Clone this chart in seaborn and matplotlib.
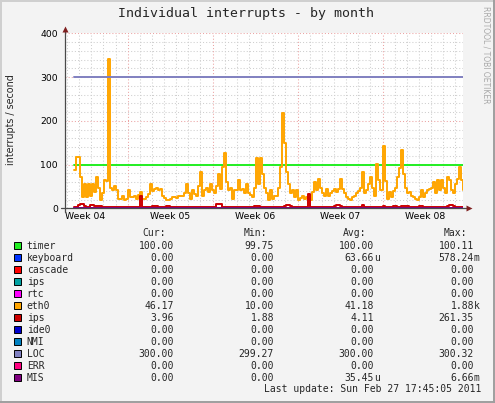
import numpy as np
import matplotlib
matplotlib.use("Agg")
import matplotlib.pyplot as plt
import seaborn as sns
from matplotlib.patches import Rectangle
from matplotlib.lines import Line2D

W, H = 495, 403

# time axis in days since the Monday that starts week 04, one sample ~ every 4h
start_day = 2.58
step_days = 0.165
x_range = (1.84, 34.62)

# eth0 interrupts / second
eth0 = [
    87, 117, 117, 72, 26, 56, 26, 56, 29, 56,
    37, 72, 47, 19, 34, 65, 63, 342, 47, 41,
    51, 41, 22, 22, 29, 19, 22, 41, 26, 26,
    29, 22, 30, 37, 22, 22, 26, 33, 56, 40,
    44, 47, 41, 44, 29, 24, 20, 20, 22, 26,
    26, 24, 29, 27, 29, 36, 56, 34, 22, 41,
    33, 29, 52, 83, 29, 41, 47, 38, 56, 41,
    34, 51, 79, 44, 94, 126, 60, 41, 47, 22,
    41, 41, 65, 41, 44, 36, 56, 34, 30, 26,
    47, 115, 56, 115, 79, 47, 34, 19, 41, 22,
    29, 29, 47, 94, 218, 150, 83, 56, 34, 41,
    26, 41, 19, 24, 29, 22, 26, 22, 19, 37,
    59, 41, 68, 47, 34, 29, 44, 29, 34, 40,
    44, 37, 44, 68, 44, 34, 26, 22, 19, 26,
    29, 34, 40, 47, 83, 34, 41, 56, 72, 47,
    29, 101, 65, 41, 142, 62, 22, 37, 26, 40,
    47, 72, 91, 133, 79, 47, 34, 37, 29, 26,
    22, 19, 26, 41, 26, 34, 41, 44, 47, 59,
    34, 65, 41, 65, 47, 34, 72, 65, 41, 34,
    56, 68, 94, 65, 41,
]

# ips (dark red) interrupts / second
ips_red = [
    4, 4, 8, 10, 10, 5, 4, 3, 8, 8,
    6, 6, 5, 6, 4, 3, 3, 3, 3, 4,
    3, 3, 4, 3, 3, 3, 3, 3, 3, 4,
    3, 3, 3, 27, 4, 3, 4, 3, 3, 5,
    5, 6, 4, 3, 3, 3, 5, 5, 3, 3,
    3, 3, 4, 3, 3, 3, 3, 3, 3, 3,
    3, 4, 3, 3, 3, 3, 3, 3, 3, 3,
    4, 9, 10, 9, 4, 3, 3, 3, 3, 3,
    3, 3, 3, 3, 3, 3, 3, 3, 4, 3,
    6, 6, 5, 3, 3, 3, 3, 3, 3, 3,
    3, 3, 3, 3, 3, 6, 7, 7, 5, 3,
    3, 3, 3, 3, 3, 3, 3, 33, 3, 3,
    3, 3, 3, 3, 3, 3, 3, 3, 3, 3,
    5, 7, 7, 6, 4, 3, 3, 3, 3, 3,
    3, 3, 3, 3, 8, 3, 3, 3, 3, 3,
    3, 3, 3, 4, 6, 4, 3, 3, 3, 5,
    5, 4, 4, 6, 6, 6, 5, 3, 3, 3,
    3, 3, 5, 5, 3, 3, 3, 3, 3, 3,
    3, 3, 3, 3, 3, 3, 6, 7, 7, 6,
    4, 3, 3, 3, 4,
]

timer_level = 100
loc_level = 300

week_labels = ["Week 04", "Week 05", "Week 06", "Week 07", "Week 08"]
week_centers = [3.5, 10.5, 17.5, 24.5, 31.5]
y_ticks = [0, 100, 200, 300, 400]

legend_names = ["timer", "keyboard", "cascade", "ips", "rtc", "eth0",
                "ips", "ide0", "NMI", "LOC", "ERR", "MIS"]
legend_colors = ["#22ee22", "#0033ff", "#ff0000", "#00a0a0", "#ff00ff",
                 "#ffa500", "#cc0000", "#0000cc", "#0080c0", "#8080c0",
                 "#ff0080", "#800080"]
cur_vals = ["100.00", "0.00", "0.00", "0.00", "0.00", "46.17",
            "3.96", "0.00", "0.00", "300.00", "0.00", "0.00"]
min_vals = ["99.75", "0.00", "0.00", "0.00", "0.00", "10.00",
            "1.88", "0.00", "0.00", "299.27", "0.00", "0.00"]
avg_vals = ["100.00", "63.66u", "0.00", "0.00", "0.00", "41.18",
            "4.11", "0.00", "0.00", "300.00", "0.00", "35.45u"]
max_vals = ["100.11", "578.24m", "0.00", "0.00", "0.00", "1.88k",
            "261.35", "0.00", "0.00", "300.32", "0.00", "6.66m"]


def px(x, y):
    """pixel position (from top-left) -> figure fraction"""
    return x / W, 1 - y / H


sns.set_style("white")
plt.rcParams["font.family"] = ["DejaVu Sans"]

fig = plt.figure(figsize=(W / 100, H / 100), dpi=100, facecolor="#f3f3f3")
ax = fig.add_axes([65 / W, (H - 208.3) / H, 398 / W, 175 / H])
ax.set_facecolor("white")
ax.set_xlim(*x_range)
ax.set_ylim(0, 400)
for s in ax.spines.values():
    s.set_visible(False)

# grid, minor dotted grey, major dotted pink
days = np.arange(2, 35)
minor_days = days[days % 7 != 0]
major_days = days[days % 7 == 0]
minor_y = np.arange(20, 400, 20)
minor_y = minor_y[minor_y % 100 != 0]
dots = (0, (1, 2))
ax.vlines(minor_days, 0, 400, colors="#cfcfcf", lw=0.75, linestyles=dots, zorder=0)
ax.hlines(minor_y, *x_range, colors="#cfcfcf", lw=0.75, linestyles=dots, zorder=0)
ax.vlines(major_days, 0, 400, colors="#eba3a3", lw=0.75, linestyles=dots, zorder=0)
ax.hlines(y_ticks[1:], *x_range, colors="#eba3a3", lw=0.75, linestyles=dots, zorder=0)

t = start_day + step_days * np.arange(len(eth0))
span = [t[0], t[-1] + step_days]

# series drawn in legend order, like rrdtool does
for name, color in zip(legend_names, legend_colors):
    if name == "timer":
        sns.lineplot(x=span, y=[timer_level] * 2, ax=ax, color=color, lw=1.4)
    elif name == "LOC":
        sns.lineplot(x=span, y=[loc_level] * 2, ax=ax, color=color, lw=1.4)
    elif name == "eth0":
        sns.lineplot(x=t, y=eth0, ax=ax, color=color, lw=1.4,
                     drawstyle="steps-post")
    elif color == "#cc0000":
        sns.lineplot(x=t, y=ips_red, ax=ax, color=color, lw=1.4,
                     drawstyle="steps-post")
    else:
        sns.lineplot(x=span, y=[0, 0], ax=ax, color=color, lw=1.4)

# axes with rrdtool-like arrows
ax.plot([-0.01, 1.008], [0, 0], color="#4a4a4a", lw=0.9,
        transform=ax.transAxes, clip_on=False, zorder=5)
ax.plot([0, 0], [-0.02, 1.02], color="#4a4a4a", lw=0.9,
        transform=ax.transAxes, clip_on=False, zorder=5)
ax.plot([1.014], [0], marker=">", ms=4, color="#7f1f1f", mec="none",
        transform=ax.transAxes, clip_on=False, zorder=6)
ax.plot([0], [1.025], marker="^", ms=4, color="#7f1f1f", mec="none",
        transform=ax.transAxes, clip_on=False, zorder=6)

ax.set_xticks(week_centers)
ax.set_xticklabels(week_labels)
ax.set_yticks(y_ticks)
ax.tick_params(axis="both", length=0, labelsize=6.7, colors="black")
ax.tick_params(axis="x", pad=3)
ax.tick_params(axis="y", pad=5)
ax.set_xlabel("")
ax.set_ylabel("")

# texts around the plot
fig.text(*px(246.5, 13), "Individual interrupts - by month", ha="center",
         va="center", fontsize=9.5, family="DejaVu Sans Mono")
fig.text(*px(11, 120), "interrupts / second", rotation=90, ha="center",
         va="center", fontsize=6.9)
fig.text(*px(486, 6), "RRDTOOL / TOBI OETIKER", rotation=270, ha="center",
         va="top", fontsize=5.5, color="#a8a8a8")

# legend table
mono = "DejaVu Sans Mono"
for head, xr in zip(["Cur:", "Min:", "Avg:", "Max:"], [166, 267, 366, 467]):
    fig.text(*px(xr, 233.3), head, ha="right", va="center", fontsize=7.05,
             family=mono)

columns = [cur_vals, min_vals, avg_vals, max_vals]
col_right = [174, 274, 374, 474]
for k, (name, color) in enumerate(zip(legend_names, legend_colors)):
    yc = 245.7 + 12 * k
    bx, by = px(13.5, yc + 3.5)
    fig.add_artist(Rectangle((bx, by), 7 / W, 7 / H, facecolor=color,
                             edgecolor="black", lw=0.7,
                             transform=fig.transFigure))
    fig.text(*px(26.7, yc), name, ha="left", va="center", fontsize=7.05,
             family=mono)
    for col, xr in zip(columns, col_right):
        val = col[k]
        suffix = ""
        if val[-1].isalpha():
            val, suffix = val[:-1], val[-1]
        fig.text(*px(xr, yc), val, ha="right", va="center", fontsize=7.05,
                 family=mono)
        if suffix:
            fig.text(*px(xr, yc), suffix, ha="left", va="center",
                     fontsize=7.05, family=mono)

fig.text(*px(481, 389.3), "Last update: Sun Feb 27 17:45:05 2011",
         ha="right", va="center", fontsize=7.05, family=mono)

# 3d-ish frame around the image
shade_a, shade_b = "#cfcfcf", "#9e9e9e"
fig.add_artist(Line2D([0, 1], [1 - 1 / H] * 2, color=shade_a, lw=1.4,
                      transform=fig.transFigure))
fig.add_artist(Line2D([1 / W] * 2, [0, 1], color=shade_a, lw=1.4,
                      transform=fig.transFigure))
fig.add_artist(Line2D([0, 1], [1 / H] * 2, color=shade_b, lw=1.4,
                      transform=fig.transFigure))
fig.add_artist(Line2D([1 - 1 / W] * 2, [0, 1], color=shade_b, lw=1.4,
                      transform=fig.transFigure))

fig.savefig("out.png", dpi=100, facecolor=fig.get_facecolor())
